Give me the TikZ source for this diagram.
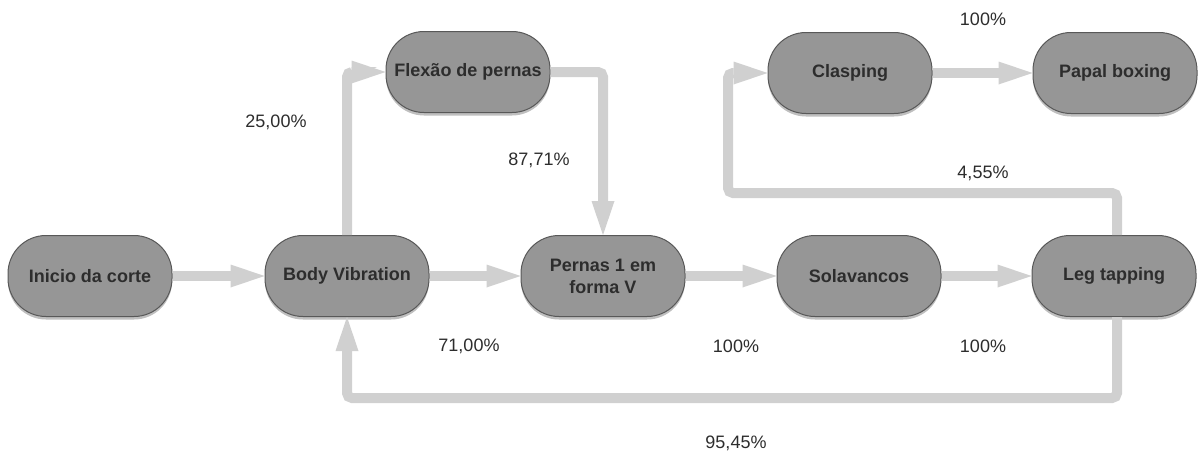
\documentclass[tikz,border=0pt]{standalone}
\usepackage{fontspec}
\setmainfont{Liberation Sans}
\usetikzlibrary{arrows.meta,shadows}
\definecolor{nodefill}{RGB}{150,150,150}
\definecolor{nodeborder}{RGB}{88,88,88}
\definecolor{conn}{RGB}{208,208,208}
\definecolor{txt}{RGB}{45,45,45}
\begin{document}
\begin{tikzpicture}[x=1pt,y=-1pt,
  state/.style={draw=nodeborder, line width=1pt, fill=nodefill, rounded corners=38pt,
    minimum width=164pt, minimum height=81pt, inner sep=0pt, text=txt,
    font=\fontsize{18}{22}\selectfont\bfseries, align=center,
    drop shadow={shadow xshift=0pt, shadow yshift=-3pt, opacity=0.25, fill=black}},
  pct/.style={text=txt, font=\fontsize{18}{20}\selectfont},
  flow/.style={draw=conn, line width=10pt, rounded corners=5pt,
    -{Triangle[length=34pt,width=23pt,line width=0pt]}}]
\useasboundingbox[fill=white] (0,0) rectangle (1200,458);

\node[state] (ini)   at (90,276)   {Inicio da corte};
\node[state] (body)  at (347,276)  {Body Vibration};
\node[state] (pern)  at (603,276)  {Pernas 1 em\\forma V};
\node[state] (sol)   at (859,276)  {Solavancos};
\node[state] (leg)   at (1114,276) {Leg tapping};
\node[state] (flex)  at (468,72)   {Flexão de pernas};
\node[state] (clasp) at (850,73)   {Clasping};
\node[state] (papal) at (1115,73)  {Papal boxing};

\coordinate (a) at (1117,193);
\coordinate (b) at (728,193);
\coordinate (c) at (1117,398);
\coordinate (d) at (347,398);

\draw[flow] (ini) -- (body);
\draw[flow] (body) -- (pern);
\draw[flow] (pern) -- (sol);
\draw[flow] (sol) -- (leg);
\draw[flow] (clasp) -- (papal);
\draw[flow] (body.north) |- (flex.west);
\draw[flow] (flex.east) -| (pern.north);
\draw[flow] (leg.north -| a) -- (a) -- (b) |- (clasp.west);
\draw[flow] (leg.south -| c) -- (c) -- (d) -- (body.south);

\node[pct] (l1) at (276,122) {25,00\%};
\node[pct] (l2) at (539,160) {87,71\%};
\node[pct] (l3) at (469,346) {71,00\%};
\node[pct] (l4) at (736,346) {100\%};
\node[pct] (l5) at (983,346) {100\%};
\node[pct] (l6) at (736,443) {95,45\%};
\node[pct] (l7) at (983,173) {4,55\%};
\node[pct] (l8) at (983,19)  {100\%};
\end{tikzpicture}
\end{document}
